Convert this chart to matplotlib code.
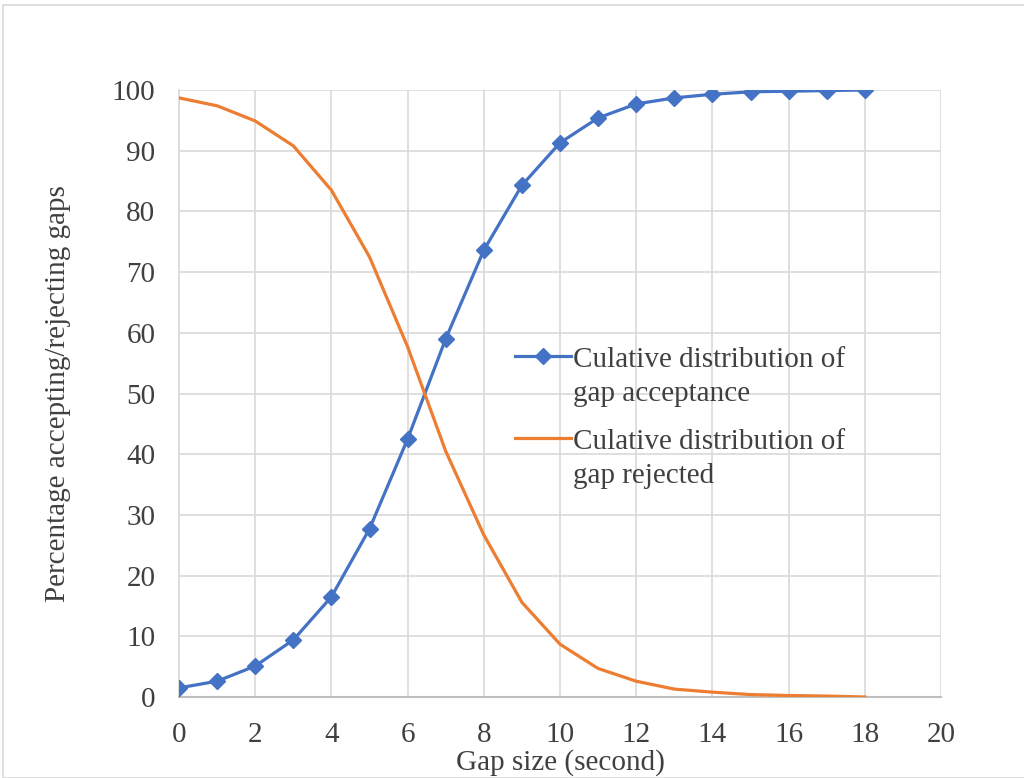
import matplotlib
matplotlib.use("Agg")
import numpy as np
import matplotlib.pyplot as plt
from matplotlib.patches import Rectangle
from matplotlib.legend_handler import HandlerLine2D

gap_size = list(range(0, 19))
accept = [1.5, 2.6, 5.1, 9.4, 16.5, 27.7, 42.5, 59.0, 73.6, 84.3, 91.3, 95.4, 97.7,
          98.7, 99.3, 99.7, 99.8, 99.9, 100.0]
reject = [98.7, 97.4, 94.9, 90.8, 83.5, 72.5, 57.7, 40.5, 26.7, 15.6, 8.7, 4.7, 2.6,
          1.3, 0.8, 0.4, 0.25, 0.15, 0.0]
x_ticks = list(range(0, 21, 2))
y_ticks = list(range(0, 101, 10))
label_accept = "Culative distribution of\ngap acceptance"
label_reject = "Culative distribution of\ngap rejected"

plt.rcParams['font.family'] = ['Liberation Serif', 'DejaVu Serif']
FS = 21
TXT = '#404040'
LSP = 1.4


class TopLineHandler(HandlerLine2D):
    def create_artists(self, legend, orig_handle, xdescent, ydescent, width, height,
                       fontsize, trans):
        arts = super().create_artists(legend, orig_handle, xdescent, ydescent, width,
                                      height, fontsize, trans)
        for a in arts:
            a.set_ydata(np.asarray(a.get_ydata(), dtype=float) + fontsize * LSP / 2)
        return arts


fig = plt.figure(figsize=(10.24, 7.78), dpi=100)
W, H = 1024, 778
ax = fig.add_axes([179 / W, 1 - 697 / H, (941 - 179) / W, (697 - 90) / H])

blue = '#4472C4'
orange = '#ED7D31'
l1, = ax.plot(gap_size, accept, color=blue, lw=2.3, marker='D', ms=8.5, label=label_accept, zorder=3)
l2, = ax.plot(gap_size, reject, color=orange, lw=2.3, label=label_reject, zorder=3)

ax.set_xlim(0, 20)
ax.set_ylim(0, 100)
ax.set_xticks(x_ticks)
ax.set_yticks(y_ticks)
ax.grid(True, color='#D9D9D9', lw=1.2)
ax.set_axisbelow(True)
for s in ['top', 'right']:
    ax.spines[s].set_visible(False)
ax.spines['left'].set_color('#D9D9D9')
ax.spines['left'].set_linewidth(1.2)
ax.spines['bottom'].set_color('#BFBFBF')
ax.spines['bottom'].set_linewidth(1.5)
ax.tick_params(length=0, labelsize=FS, colors=TXT)
ax.tick_params(axis='x', pad=18)
ax.tick_params(axis='y', pad=17)

ax.set_xlabel('Gap size (second)', fontsize=FS, color=TXT, labelpad=1)
ax.set_ylabel('Percentage accepting/rejecting gaps', fontsize=FS, color=TXT, labelpad=29)

leg = ax.legend(handles=[l1, l2], loc='upper left', bbox_to_anchor=(0.407, 0.62), frameon=False,
                fontsize=FS, handlelength=1.9, labelspacing=0.76, handletextpad=0.08,
                handler_map={l1: TopLineHandler(), l2: TopLineHandler()})
for t in leg.get_texts():
    t.set_color(TXT)
    t.set_linespacing(LSP)

fig.patches.append(Rectangle((3 / W, 0), 1.1, 1 - 5 / H, transform=fig.transFigure,
                             fill=False, edgecolor='#D9D9D9', lw=1.2))

fig.savefig('out.png', dpi=100)
